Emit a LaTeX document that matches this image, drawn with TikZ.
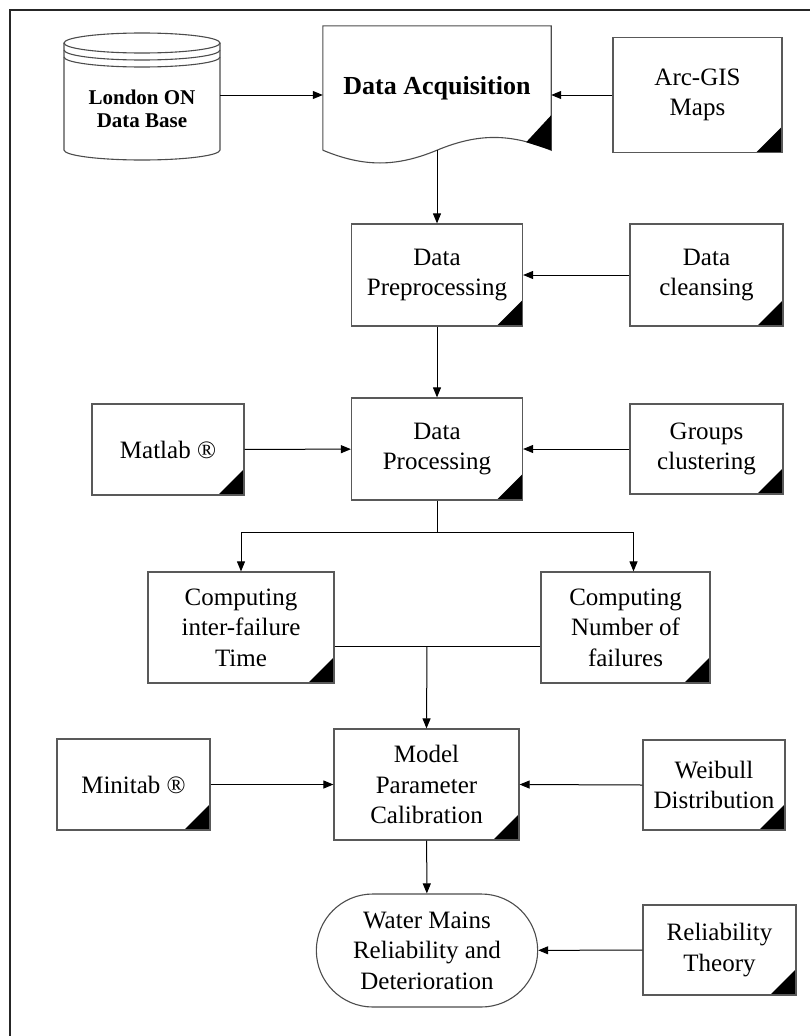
\documentclass[tikz,border=0pt]{standalone}
\usepackage{fontspec}
\setmainfont{Liberation Serif}
\usetikzlibrary{arrows.meta,shapes.misc}
\tikzset{
    block/.style={rectangle, draw=black!65, line width=1.2pt, align=center, inner sep=2pt,
        path picture={\fill (path picture bounding box.south east) -- ++(-26pt,0pt) -- ++(26pt,26pt) -- cycle;}},
    term/.style={rounded rectangle, draw=black!70, line width=1.1pt, align=center},
    edge/.style={draw, line width=1pt, -{Triangle[length=10pt,width=8pt]}},
    link/.style={draw, line width=1pt},
    shapeline/.style={draw=black!70, line width=1.1pt}
}

\begin{document}
\begin{tikzpicture}[x=1pt, y=-1pt, every node/.style={font=\fontsize{25}{30.5}\selectfont}]
\useasboundingbox (0,0) rectangle (810,1036);

% outer frame
\draw[line width=2.5pt, black!85] (10,1060) -- (10,10) -- (830,10);

% Nodes
\node[align=center, minimum width=156pt, minimum height=120pt,
      font=\bfseries\fontsize{21}{23}\selectfont] (db) at (142,109) {London ON\\Data Base};
\node[minimum width=228pt, minimum height=124pt,
      font=\bfseries\fontsize{26}{30}\selectfont] (acq) at (437,88) {Data Acquisition};
\node[block, minimum width=169pt, minimum height=115pt] (gis) at (697.5,95) {Arc-GIS\\Maps};

\node[block, minimum width=171pt, minimum height=102pt] (prep) at (437,275) {Data\\Preprocessing};
\node[block, minimum width=153pt, minimum height=102pt] (clean) at (706.5,275) {Data\\cleansing};

\node[block, minimum width=171pt, minimum height=102pt] (proc) at (437,449) {Data\\Processing};
\node[block, minimum width=152pt, minimum height=91pt] (matlab) at (168,449.5) {Matlab ®};
\node[block, minimum width=153pt, minimum height=90pt] (groups) at (706.5,449) {Groups\\clustering};

\node[block, minimum width=186pt, minimum height=111pt] (inter) at (241,627.5) {Computing\\inter-failure\\Time};
\node[block, minimum width=169pt, minimum height=111pt] (num) at (625.5,627.5) {Computing\\Number of\\failures};

\node[block, minimum width=185pt, minimum height=111pt] (model) at (426.5,784.5) {Model\\Parameter\\Calibration};
\node[block, minimum width=153pt, minimum height=91pt] (minitab) at (133.5,784.5) {Minitab ®};
\node[block, minimum width=142pt, minimum height=90pt] (weibull) at (714,785) {Weibull\\Distribution};

\node[term, minimum width=228pt, minimum height=113pt] (rel) at (427,950.5) {Water Mains\\Reliability and\\Deterioration};
\node[block, minimum width=153pt, minimum height=90pt] (theory) at (719.5,950) {Reliability\\Theory};

% data base drum
\draw[shapeline] (142,43) ellipse [x radius=78, y radius=10];
\draw[shapeline] (64,50) arc[start angle=180, end angle=0, x radius=78, y radius=10];
\draw[shapeline] (64,57) arc[start angle=180, end angle=0, x radius=78, y radius=10];
\draw[shapeline] (64,43) -- (64,150) arc[start angle=180, end angle=0, x radius=78, y radius=10] -- (220,43);

% document outline
\draw[shapeline] (acq.south west) -- (acq.north west) -- (acq.north east) -- (acq.south east)
    .. controls +(-41,-17) and +(41,-17) .. (acq.south)
    .. controls +(-41,17) and +(41,17) .. (acq.south west);
\fill (acq.south east) -- ++(0,-35) -- ++(-25,27) -- cycle;

% connectors
\coordinate (split) at (437,532);
\coordinate (join) at (427,646);

\draw[edge] ([yshift=14pt]db.east) -- ([yshift=-7pt]acq.west);
\draw[edge] (gis.west) -- ([yshift=-7pt]acq.east);
\draw[edge] (acq.south) -- (prep.north);
\draw[edge] (clean) -- (prep);
\draw[edge] (prep) -- (proc);
\draw[edge] (matlab) -- (proc);
\draw[edge] (groups) -- (proc);

\draw[link] (proc.south) -- (split);
\draw[edge] (split) -| (inter.north);
\draw[edge] (split) -| ([xshift=8pt]num.north);

\draw[link] ([yshift=-18.5pt]inter.east) -- ([yshift=-18.5pt]num.west);
\draw[edge] (join) -- (model.north);
\draw[edge] (minitab) -- (model);
\draw[edge] (weibull.west) -- (model.east);
\draw[edge] (model) -- (rel);
\draw[edge] (theory) -- (rel);
\end{tikzpicture}
\end{document}
